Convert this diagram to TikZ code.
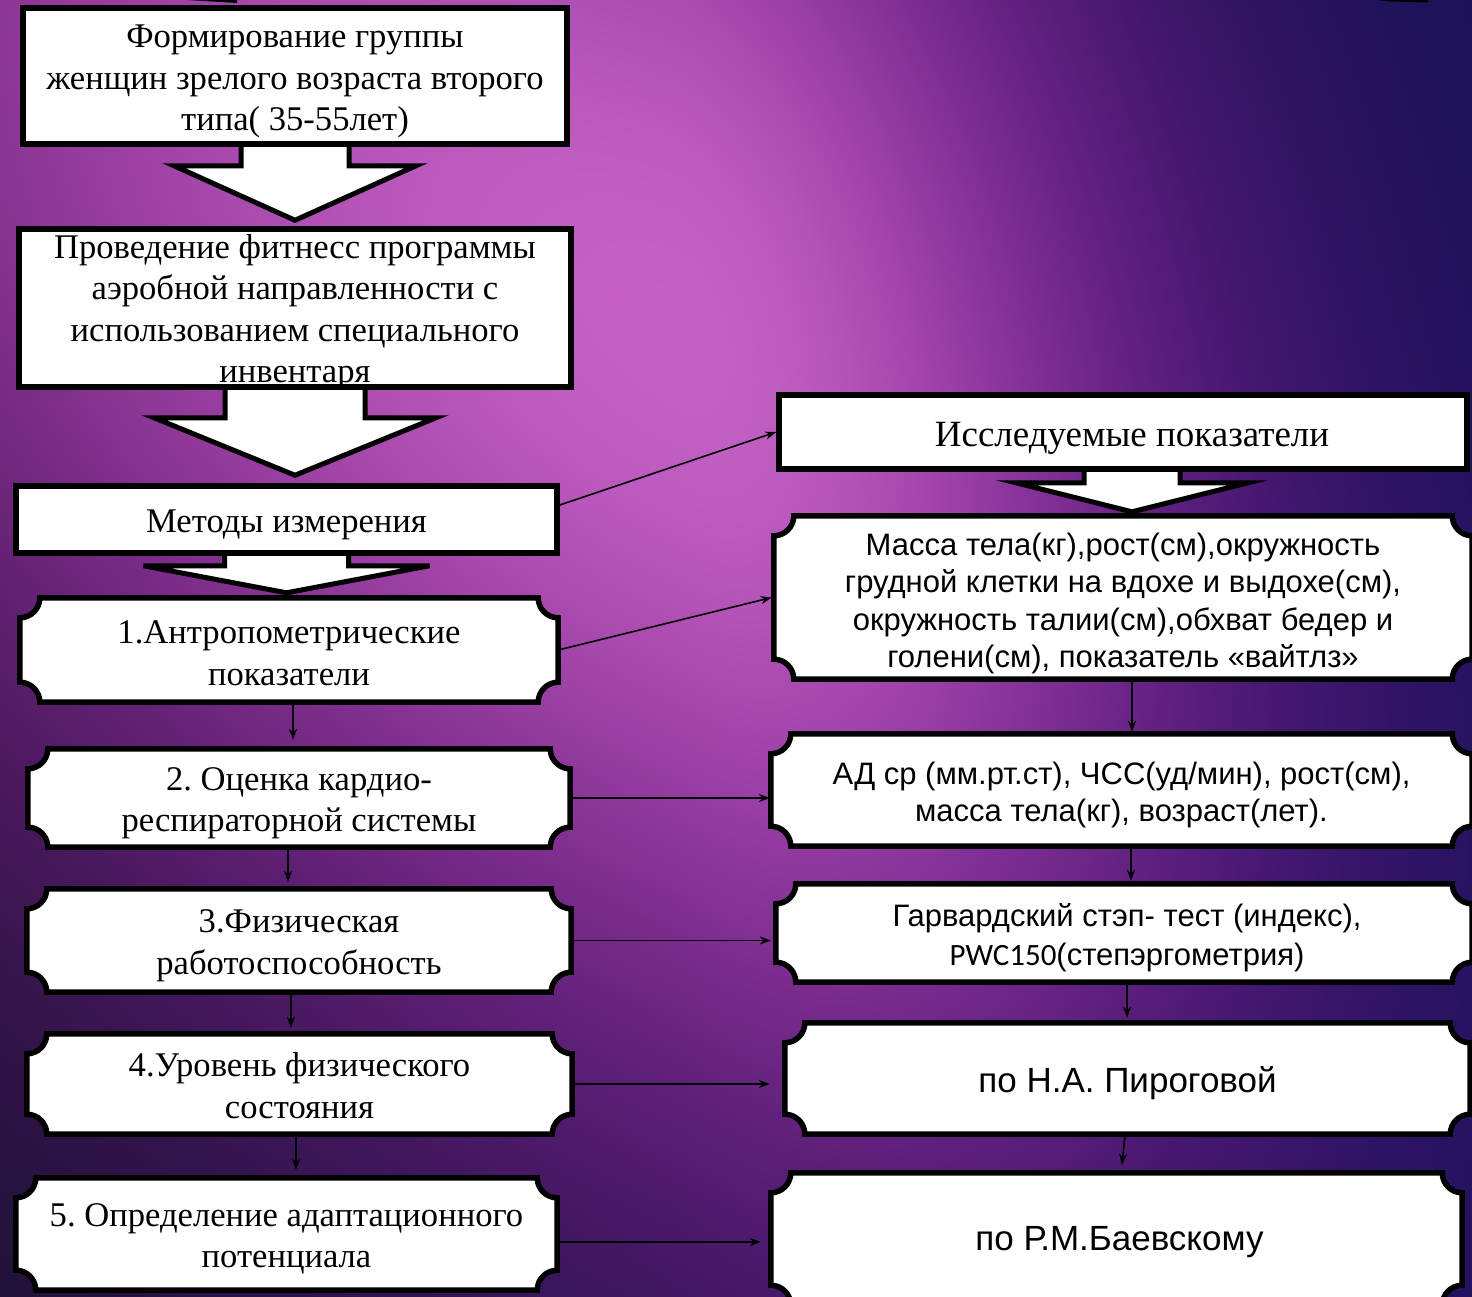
\documentclass[tikz,border=0pt]{standalone}
\usepackage{fontspec}
\setmainfont{Liberation Serif}
\newfontfamily\arial{Liberation Sans}
\newfontfamily\calibri{Carlito}
\usetikzlibrary{calc,arrows.meta}
\frenchspacing
\pgfdeclarelayer{back}\pgfdeclarelayer{mid}\pgfsetlayers{back,mid,main}
\pgfdeclarefunctionalshading{bgfun}{\pgfpoint{-50bp}{-50bp}}{\pgfpoint{50bp}{50bp}}{}{
 exch dup 25 add 0.02 mul
 3 1 roll
 25 add 0.02944 mul 0.68 sub
 exch 25 exch sub 0.02592 mul 0.33 sub
 exch
 dup 0 gt {4.2 -1.91} {1.13 -1.28} ifelse
 3 index 3 index mul mul
 exch 2 index dup mul mul add
 exch pop
 exch dup mul 1.5 mul add
 neg 2.71828 exch exp
 exch 0.15 mul 0.19 add
 1 index 1 exch sub mul
 1 index 0.77 mul add
 exch
 dup 0.685 mul 0.085 add
 exch dup mul 0.31 mul 0.07 add
 3 -1 roll
}
\tikzset{
 boxline/.style={draw=black,line width=5.5pt,line join=miter},
 rbox/.style={boxline,fill=white,inner sep=0pt},
 pbox/.style={inner sep=0pt},
 txt/.style={inner sep=0pt,align=center},
 tnr/.style={font=\fontsize{34.6}{41.5}\selectfont},
 ari/.style={font=\arial\fontsize{31}{37.5}\selectfont},
 arib/.style={font=\arial\fontsize{35}{42}\selectfont},
 conn/.style={line width=1.6pt,-{Stealth[length=11pt,width=8pt]}},
 blockarrow/.style={draw=black,fill=white,line width=5pt,line join=miter},
}
\newcommand\plaq[1]{\draw[boxline,fill=white] ([xshift=20pt]#1.north west) -- ([xshift=-20pt]#1.north east) arc[start angle=180,end angle=270,radius=20pt] -- ([yshift=20pt]#1.south east) arc[start angle=90,end angle=180,radius=20pt] -- ([xshift=20pt]#1.south west) arc[start angle=0,end angle=90,radius=20pt] -- ([yshift=-20pt]#1.north west) arc[start angle=270,end angle=360,radius=20pt] -- cycle;}
\begin{document}
\begin{tikzpicture}[x=1pt,y=-1pt]
\useasboundingbox (0,0) rectangle (1472,1296);
\begin{pgfonlayer}{back}
\shade[shading=bgfun] (0,0) rectangle (1472,1296);
\end{pgfonlayer}
% boxes, left column
\node[rbox,minimum width=544pt,minimum height=136pt] (A) at (295,76) {};
\node[rbox,minimum width=552pt,minimum height=158pt] (B) at (295,308) {};
\node[rbox,minimum width=541pt,minimum height=67pt] (C) at (286.5,519.5) {};
\node[pbox,minimum width=538pt,minimum height=104pt] (D) at (289,650) {};
\node[pbox,minimum width=542pt,minimum height=98pt] (E) at (299,798) {};
\node[pbox,minimum width=544pt,minimum height=103pt] (F) at (299,940.5) {};
\node[pbox,minimum width=545pt,minimum height=100pt] (G) at (299.5,1084) {};
\node[pbox,minimum width=541pt,minimum height=112pt] (H) at (286.5,1234) {};
% boxes, right column
\node[rbox,minimum width=688pt,minimum height=74pt] (IP) at (1123,432) {};
\node[pbox,minimum width=698pt,minimum height=163pt] (M) at (1123,597.5) {};
\node[pbox,minimum width=701pt,minimum height=112pt] (AD) at (1121.5,790) {};
\node[pbox,minimum width=696pt,minimum height=98pt] (GV) at (1124,933) {};
\node[pbox,minimum width=685pt,minimum height=111pt] (PI) at (1127.5,1078.5) {};
\node[pbox,minimum width=691pt,minimum height=132pt] (BA) at (1116.5,1239) {};
% block arrows and plaque borders
\begin{pgfonlayer}{mid}
\draw[blockarrow] ($(A.south)+(-54,0)$) -- ($(A.south)+(-54,19)$) -- ($(A.south)+(-121,19)$) -- ($(A.south |- B.north)+(0,-6)$) -- ($(A.south)+(121,19)$) -- ($(A.south)+(54,19)$) -- ($(A.south)+(54,0)$);
\draw[blockarrow] ($(B.south)+(-70,0)$) -- ($(B.south)+(-70,28)$) -- ($(B.south)+(-141,28)$) -- ($(B.south |- C.north)+(0,-8)$) -- ($(B.south)+(141,28)$) -- ($(B.south)+(70,28)$) -- ($(B.south)+(70,0)$);
\draw[blockarrow] ($(C.south)+(-62,0)$) -- ($(C.south)+(-62,10)$) -- ($(C.south)+(-143,10)$) -- ($(C.south |- D.north)+(0,-5)$) -- ($(C.south)+(143,10)$) -- ($(C.south)+(62,10)$) -- ($(C.south)+(62,0)$);
\draw[blockarrow] ($(IP.south)+(-39,0)$) -- ($(IP.south)+(-39,11)$) -- ($(IP.south)+(-107,11)$) -- ($(IP.south |- M.north)+(9,-4)$) -- ($(IP.south)+(125,11)$) -- ($(IP.south)+(57,11)$) -- ($(IP.south)+(57,0)$);
\plaq{D}\plaq{E}\plaq{F}\plaq{G}\plaq{H}
\plaq{M}\plaq{AD}\plaq{GV}\plaq{PI}\plaq{BA}
\end{pgfonlayer}
% texts
\node[txt,tnr] (At) at ($(A)+(0,5.5)$) {Формирование группы\\женщин зрелого возраста второго\\типа( 35-55лет)};
\node[txt,tnr] (Bt) at ($(B)+(0,4)$) {Проведение фитнесс программы\\аэробной направленности с\\использованием специального\\инвентаря};
\node[txt,tnr] (Ct) at ($(C)+(0,5)$) {Методы измерения};
\node[txt,tnr] (Dt) at ($(D)+(0,3)$) {1.Антропометрические\\показатели};
\node[txt,tnr] (Et) at ($(E)+(0,5)$) {2. Оценка кардио-\\респираторной системы};
\node[txt,tnr] (Ft) at ($(F)+(0,5)$) {3.Физическая\\работоспособность};
\node[txt,tnr] (Gt) at ($(G)+(0,1.5)$) {4.Уровень физического\\состояния};
\node[txt,tnr] (Ht) at ($(H)+(0,5)$) {5. Определение адаптационного\\потенциала};
\node[txt,font=\fontsize{37}{44}\selectfont] (IPt) at ($(IP)+(9,6)$) {Исследуемые показатели};
\node[txt,ari] (Mt) at ($(M)+(0,6)$) {Масса тела(кг),рост(см),окружность\\грудной клетки на вдохе и выдохе(см),\\окружность талии(см),обхват бедер и\\голени(см), показатель «вайтлз»};
\node[txt,ari] (ADt) at ($(AD)+(0,5)$) {АД ср (мм.рт.ст), ЧСС(уд/мин), рост(см),\\масса тела(кг), возраст(лет).};
\node[txt,font=\arial\fontsize{31}{39}\selectfont] (GVt) at ($(GV)+(3,5)$) {Гарвардский стэп- тест (индекс),\\{\calibri PWC150}(степэргометрия)};
\node[txt,arib] (PIt) at ($(PI)+(0,5)$) {по Н.А. Пироговой};
\node[txt,arib] (BAt) at ($(BA)+(3,3)$) {по Р.М.Баевскому};
% connectors
\draw[conn] ([yshift=14.5pt]C.east) -- (IP.west);
\draw[conn] (D.east) -- ([xshift=-2pt]M.west);
\draw[conn] (E.east) -- ([xshift=-1pt]E.east -| AD.west);
\draw[conn] (F.east) -- ([xshift=-5pt]F.east -| GV.west);
\draw[conn] (G.east) -- ([xshift=-15pt]G.east -| PI.west);
\draw[conn] ([yshift=-8pt]H.east) -- ([yshift=-8pt,xshift=-10pt]H.east -| BA.west);
\draw[conn] ($(D.south)+(4,1)$) -- ($(E.north)+(-6,-9)$);
\draw[conn] ($(E.south)+(-11,1)$) -- ($(F.north)+(-11,-7)$);
\draw[conn] ($(F.south)+(-8,1)$) -- ($(G.north)+(-8.5,-6)$);
\draw[conn] ($(G.south)+(-3.5,1)$) -- ($(H.north)+(9.5,-8)$);
\draw[conn] ($(M.south)+(9,1)$) -- ($(AD.north)+(10.5,-2)$);
\draw[conn] ($(AD.south)+(9.5,1)$) -- ($(GV.north)+(7,-3)$);
\draw[conn] ($(GV.south)+(3,1)$) -- ($(PI.north)+(-0.5,-5)$);
\draw[conn] ($(PI.south)+(-2.5,1)$) -- ($(BA.north)+(5.5,-8)$);
% fragments at the top edge
\fill[black] (187,0) -- (237,0) -- (237,3) -- cycle;
\fill[black] (1377,0) -- (1428,0) -- (1428,2.5) -- (1390,1.5) -- cycle;
\end{tikzpicture}
\end{document}
